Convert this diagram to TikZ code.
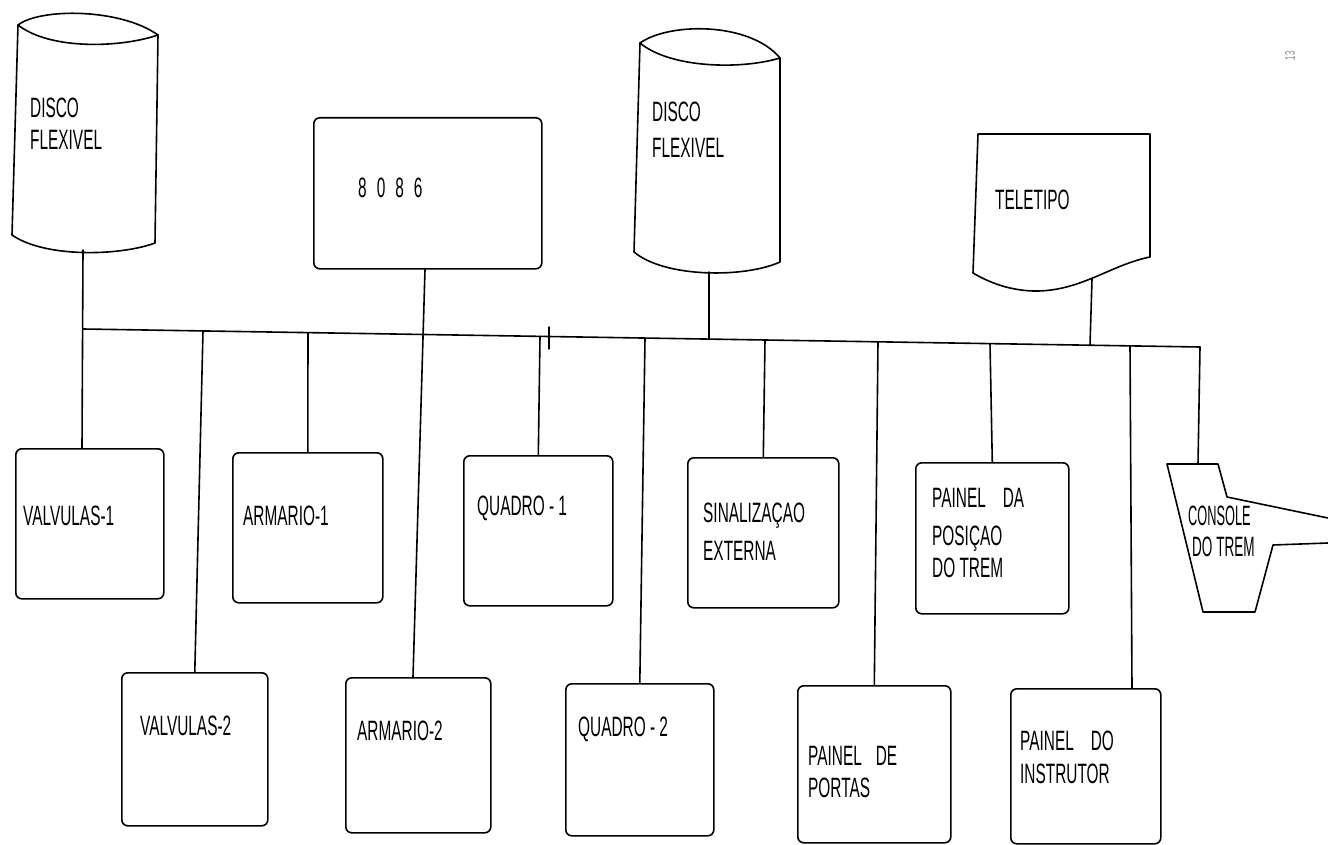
\documentclass[tikz,border=0pt]{standalone}
\usepackage{fontspec}
\setmainfont{Liberation Sans}[FakeStretch=0.55]
\usepackage{graphicx}
\usetikzlibrary{calc}
\begin{document}
\begin{tikzpicture}[x=1pt,y=-1pt,
  ln/.style={line width=1.6pt, black, line cap=round, line join=round},
  box/.style={ln, draw, rounded corners=6pt, anchor=north west, inner sep=0pt},
  lbl/.style={anchor=base west, inner sep=0pt, font=\fontsize{28}{34}\selectfont},
]
\useasboundingbox (0,0) rectangle (1328,845);

% ---------- cylinders (disks) ----------
\draw[ln] (18,25) .. controls (40,8) and (120,8) .. (158,35) -- (155,243)
  .. controls (120,256) and (45,258) .. (12,235) -- cycle;
\draw[ln] (18,25) .. controls (50,50) and (120,48) .. (158,35);
\coordinate (d1b) at (83,250);
\node[lbl] (d1t1) at (30,118) {DISCO};
\node[lbl] (d1t2) at (30,150) {FLEXIVEL};

\draw[ln] (640,43) .. controls (670,22) and (750,22) .. (780,58) -- (780,262)
  .. controls (745,278) and (665,278) .. (634,252) -- cycle;
\draw[ln] (640,43) .. controls (670,68) and (740,70) .. (780,58);
\coordinate (d2b) at (709,272);
\node[lbl] (d2t1) at (652,122) {DISCO};
\node[lbl] (d2t2) at (652,158) {FLEXIVEL};

% ---------- teletipo ----------
\draw[ln] (978,134) -- (1150,134) -- (1150,257)
  .. controls (1110,265) and (1080,292) .. (1033,291)
  .. controls (1005,290) and (985,280) .. (973,273) -- cycle;
\coordinate (ttb) at (1092,279);
\node[lbl] (ttt) at (995,210) {TELETIPO};

% ---------- 8086 ----------
\node[box, minimum width=228pt, minimum height=151pt] (cpu) at (313,117) {};
\node[lbl] (cput) at (358,198) {8\hspace{10pt}0\hspace{10pt}8\hspace{10pt}6};

% ---------- console ----------
\draw[ln] (1328,518) -- (1227,497) -- (1218,464) -- (1167,464) -- (1203,612)
  -- (1255,612) -- (1273,545) -- (1328,543);
\coordinate (ct) at (1198,464);
\node[lbl] (cont1) at (1188,525) {\scalebox{0.83}[1]{CONSOLE}};
\node[lbl] (cont2) at (1192,556) {\scalebox{0.88}[1]{DO TREM}};

% ---------- boxes, upper row ----------
\node[box, minimum width=148pt, minimum height=150pt] (v1) at (15,448) {};
\node[lbl] (v1t) at (23,525) {VALVULAS-1};
\node[box, minimum width=150pt, minimum height=150pt] (a1) at (232,452) {};
\node[lbl] (a1t) at (243,525) {ARMARIO-1};
\node[box, minimum width=149pt, minimum height=150pt] (q1) at (463,455) {};
\node[lbl] (q1t) at (477,515) {QUADRO - 1};
\node[box, minimum width=151pt, minimum height=150pt] (s) at (687,457) {};
\node[lbl] (st1) at (703,522) {SINALIZAÇAO};
\node[lbl] (st2) at (703,560) {EXTERNA};
\node[box, minimum width=153pt, minimum height=151pt] (pp) at (915,462) {};
\node[lbl] (ppt1) at (932,507) {PAINEL\hspace{17pt}DA};
\node[lbl] (ppt2) at (932,545) {POSIÇAO};
\node[lbl] (ppt3) at (932,577) {DO TREM};

% ---------- boxes, lower row ----------
\node[box, minimum width=146pt, minimum height=153pt] (v2) at (121,672) {};
\node[lbl] (v2t) at (140,735) {VALVULAS-2};
\node[box, minimum width=145pt, minimum height=155pt] (a2) at (345,677) {};
\node[lbl] (a2t) at (357,740) {ARMARIO-2};
\node[box, minimum width=148pt, minimum height=152pt] (q2) at (565,683) {};
\node[lbl] (q2t) at (578,736) {QUADRO - 2};
\node[box, minimum width=153pt, minimum height=157pt] (pd) at (797,685) {};
\node[lbl] (pdt1) at (808,765) {PAINEL\hspace{14pt}DE};
\node[lbl] (pdt2) at (808,797) {PORTAS};
\node[box, minimum width=150pt, minimum height=155pt] (pi) at (1010,688) {};
\node[lbl] (pit1) at (1020,750) {PAINEL\hspace{17pt}DO};
\node[lbl] (pit2) at (1020,783) {INSTRUTOR};

% ---------- bus ----------
\coordinate (bA) at (83,329);
\coordinate (bV2) at (203,330.9);
\coordinate (bA1) at (308,332.6);
\coordinate (bQ1) at (540,336.4);
\coordinate (bQ2) at (645,338.1);
\coordinate (bD2) at (709,339.1);
\coordinate (bS) at (765,340.0);
\coordinate (bPD) at (878,341.8);
\coordinate (bPP) at (990,343.6);
\coordinate (bTT) at (1090,345.2);
\coordinate (bPI) at (1130,345.9);
\coordinate (bZ) at (1200,347);
\draw[ln] (bA) -- (bZ);

% ---------- connectors ----------
\draw[ln] (d1b) -- ($(v1.north west)+(67,0)$);
\draw[ln] (bV2) -- (v2.north);
\draw[ln] (bA1) -- (a1.north);
\draw[ln] ($(cpu.south west)+(112,0)$) -- ($(a2.north west)+(68,0)$);
\draw[ln] (bQ1) -- (q1.north);
\draw[ln] (bQ2) -- (q2.north);
\draw[ln] (d2b) -- (bD2);
\draw[ln] (bS) -- (s.north);
\draw[ln] (bPD) -- (pd.north);
\draw[ln] (bPP) -- (pp.north);
\draw[ln] (ttb) -- (bTT);
\draw[ln] (bPI) -- ($(pi.north west)+(122,0)$);
\draw[ln] (bZ) -- (ct);
\coordinate (tk1) at (549,327);
\coordinate (tk2) at (549,349);
\draw[ln, line width=1.2pt] (tk1) -- (tk2);

% ---------- page number ----------
\node[rotate=90, text=gray, inner sep=0pt, font=\fontsize{14}{16}\selectfont] (pg) at (1290,56) {13};
\end{tikzpicture}
\end{document}
